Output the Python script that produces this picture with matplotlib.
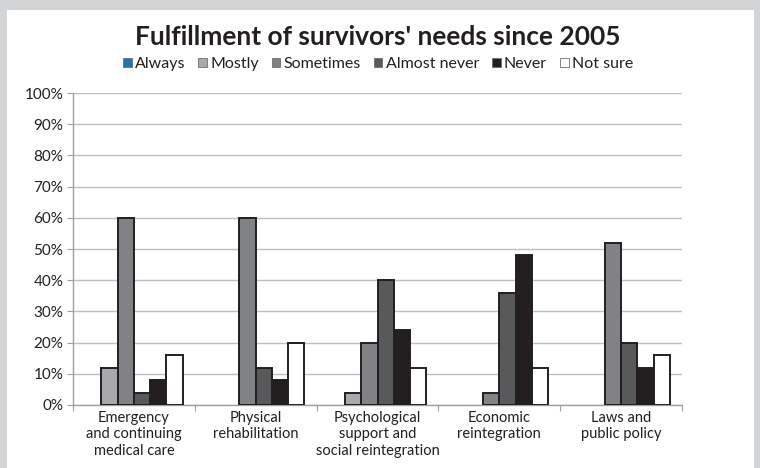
import matplotlib.pyplot as plt
import matplotlib.patches as mpatches
import numpy as np

plt.rcParams['font.family'] = ['Lato', 'DejaVu Sans']

categories = ["Emergency\nand continuing\nmedical care", "Physical\nrehabilitation",
              "Psychological\nsupport and\nsocial reintegration", "Economic\nreintegration",
              "Laws and\npublic policy"]
series_names = ["Always", "Mostly", "Sometimes", "Almost never", "Never", "Not sure"]
always = [0, 0, 0, 0, 0]
mostly = [12, 0, 4, 0, 0]
sometimes = [60, 60, 20, 4, 52]
almost_never = [4, 12, 40, 36, 20]
never = [8, 8, 24, 48, 12]
not_sure = [16, 20, 12, 12, 16]
yticks = [0, 10, 20, 30, 40, 50, 60, 70, 80, 90, 100]

colors = ["#1b75bb", "#a7a9ac", "#808285", "#58595b", "#231f20", "#ffffff"]
edge = "#231f20"

fig = plt.figure(figsize=(7.6, 4.68), dpi=100)
fig.patch.set_facecolor("#d3d4d6")
# white panel behind the chart
fig.add_artist(mpatches.Rectangle((7/760, 0), (754-7)/760, 1-10/468, transform=fig.transFigure,
                                  facecolor="white", edgecolor="none", zorder=-1))

ax = fig.add_axes([73/760, 1-405/468, (682-73)/760, (405-93)/468])
ax.set_facecolor("white")

data = [always, mostly, sometimes, almost_never, never, not_sure]
x = np.arange(len(categories))
w = 0.8 / 6
for i, vals in enumerate(data):
    bars = ax.bar(x - 0.4 + w * (i + 0.5), vals, width=w, color=colors[i], edgecolor=edge,
                  linewidth=1.4, zorder=3)
    # empty bars leave no outline on the baseline
    for b in bars:
        if b.get_height() == 0:
            b.set_visible(False)

ax.set_xlim(-0.5, len(categories) - 0.5)
ax.set_ylim(0, 100)
ax.set_yticks(yticks)
ax.set_yticklabels([f"{t}%" for t in yticks], fontsize=11, color="#231f20")
ax.yaxis.grid(True, color="#bcbec0", linewidth=1, zorder=0)
ax.set_xticks(np.arange(len(categories) + 1) - 0.5)
ax.set_xticklabels([])
ax.set_xticks(x, minor=True)
ax.set_xticklabels(categories, minor=True, fontsize=10.5, color="#231f20", linespacing=1.25)
ax.tick_params(axis='x', which='minor', length=0, pad=4)
ax.tick_params(axis='x', which='major', length=4, color="#9d9fa2")
ax.tick_params(axis='y', length=4, color="#9d9fa2", pad=3)
for s in ["top", "right"]:
    ax.spines[s].set_visible(False)
for s in ["left", "bottom"]:
    ax.spines[s].set_color("#9d9fa2")
    ax.spines[s].set_linewidth(1)

fig.text(378/760, 1-37/468, "Fulfillment of survivors' needs since 2005", ha="center", va="center",
         fontsize=19, fontweight="bold", color="#231f20")

handles = [mpatches.Patch(facecolor=c, edgecolor="#6d6e71", linewidth=0.6) for c in colors]
fig.legend(handles, series_names, loc="center", bbox_to_anchor=(378/760, 1-64/468), ncol=6,
           frameon=False, fontsize=11.5, handlelength=0.55, handleheight=0.55, handletextpad=0.2,
           columnspacing=0.8, labelcolor="#231f20")

fig.savefig("out.png", dpi=100, facecolor=fig.get_facecolor())
